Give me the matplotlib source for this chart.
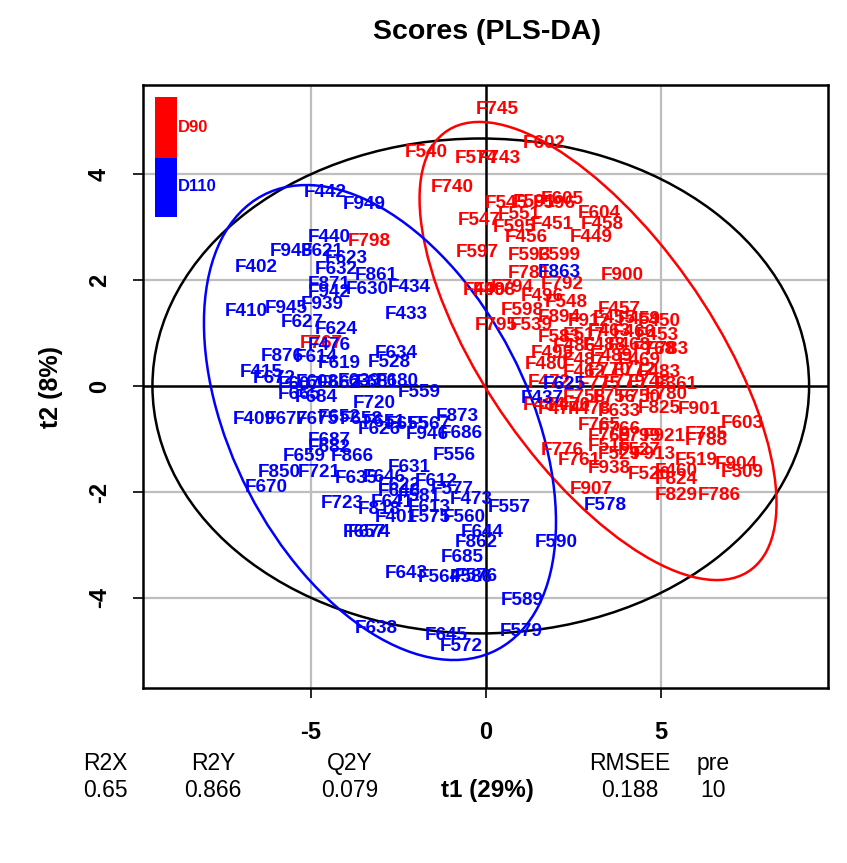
import matplotlib
matplotlib.use("Agg")
import matplotlib.pyplot as plt
from matplotlib.patches import Ellipse, Rectangle

plt.rcParams['font.family'] = ['Liberation Sans', 'DejaVu Sans']

# ---------------- data ----------------
d90_labels = ["F745", "F602", "F540", "F574", "F743", "F740", "F798", "F545", "F591", "F605",
              "F596", "F604", "F547", "F551", "F595", "F451", "F458", "F456", "F449", "F597",
              "F593", "F599", "F781", "F900", "F490", "F498", "F794", "F792", "F496", "F548",
              "F457", "F598", "F894", "F795", "F539", "F583", "F495", "F480", "F767", "F361",
              "F780", "F825", "F901", "F633", "F603", "F785", "F788", "F776", "F761", "F519",
              "F904", "F509", "F938", "F520", "F460", "F824", "F907", "F829", "F786",
              "F912", "F455", "F459", "F450", "F517", "F463", "F466", "F453", "F486", "F488",
              "F468", "F768", "F783", "F487", "F489", "F469", "F462", "F770", "F772", "F483",
              "F775", "F779", "F748", "F758", "F756", "F750", "F470", "F478", "F765", "F766",
              "F769", "F799", "F921", "F516", "F527", "F529", "F913", "F472", "F484", "F474"]
d90_t1 = [0.31, 1.66, -1.71, -0.29, 0.37, -0.97, -3.34, 0.57, 1.37, 2.17,
          1.94, 3.23, -0.20, 0.94, 0.80, 1.89, 3.31, 1.14, 3.00, -0.26,
          1.23, 2.09, 1.23, 3.89, -0.06, 0.23, 0.74, 2.17, 1.60, 2.29,
          3.80, 1.03, 2.09, 0.29, 1.29, 2.09, 1.89, 1.71, -4.71, 5.43,
          5.14, 4.94, 6.09, 3.80, 7.31, 6.29, 6.29, 2.17, 2.66, 6.00,
          7.14, 7.31, 3.51, 4.66, 5.43, 5.43, 3.00, 5.43, 6.66,
          2.94, 3.66, 4.37, 4.94, 2.80, 3.51, 4.23, 4.89, 2.51, 3.37,
          4.09, 4.80, 5.17, 2.80, 3.57, 4.37, 2.80, 3.51, 4.23, 4.94,
          3.23, 3.94, 4.66, 2.80, 3.66, 4.37, 2.37, 2.94, 3.23, 3.80,
          3.51, 4.37, 5.09, 3.51, 4.37, 3.80, 4.80, 1.80, 1.66, 2.09]
d90_t2 = [5.21, 4.58, 4.40, 4.30, 4.30, 3.75, 2.72, 3.45, 3.47, 3.51,
          3.45, 3.26, 3.13, 3.23, 3.00, 3.04, 3.04, 2.81, 2.81, 2.51,
          2.47, 2.47, 2.13, 2.09, 1.81, 1.81, 1.85, 1.91, 1.68, 1.58,
          1.45, 1.43, 1.30, 1.15, 1.15, 0.91, 0.62, 0.40, 0.81, 0.02,
          -0.17, -0.42, -0.45, -0.49, -0.70, -0.92, -1.02, -1.21, -1.40, -1.40,
          -1.49, -1.64, -1.55, -1.68, -1.62, -1.77, -1.96, -2.06, -2.06,
          1.21, 1.28, 1.25, 1.21, 0.96, 1.02, 1.00, 0.96, 0.74, 0.77,
          0.77, 0.68, 0.68, 0.49, 0.55, 0.49, 0.26, 0.30, 0.30, 0.26,
          0.02, 0.06, 0.06, -0.21, -0.21, -0.21, -0.36, -0.45, -0.74, -0.83,
          -0.96, -0.96, -0.96, -1.15, -1.21, -1.30, -1.30, 0.06, -0.36, -0.45]

d110_labels = ["F442", "F949", "F440", "F948", "F621", "F402", "F623", "F632", "F861", "F871",
               "F942", "F630", "F434", "F410", "F945", "F939", "F433", "F627", "F624", "F476",
               "F876", "F614", "F634", "F619", "F528", "F415", "F672", "F607", "F608", "F662",
               "F639", "F681", "F680", "F559", "F665", "F684", "F720", "F409", "F677", "F675",
               "F652", "F658", "F651", "F655", "F567", "F626", "F946", "F686", "F873", "F556",
               "F687", "F682", "F659", "F866", "F631", "F850", "F721", "F635", "F670", "F646",
               "F612", "F577", "F622", "F648", "F473", "F723", "F641", "F613", "F818", "F401",
               "F575", "F560", "F557", "F657", "F674", "F644", "F862", "F590", "F685", "F643",
               "F564", "F576", "F586", "F589", "F638", "F645", "F579", "F572", "F578", "F437",
               "F625", "F863", "F581"]
d110_t1 = [-4.60, -3.49, -4.49, -5.57, -4.69, -6.57, -4.00, -4.29, -3.14, -4.49,
           -4.49, -3.40, -2.20, -6.86, -5.71, -4.69, -2.29, -5.26, -4.29, -4.49,
           -5.83, -4.86, -2.57, -4.20, -2.77, -6.43, -6.06, -5.34, -4.83, -4.20,
           -3.63, -3.11, -2.54, -1.91, -5.34, -4.86, -3.20, -6.63, -5.71, -4.83,
           -4.20, -3.57, -2.91, -2.26, -1.63, -3.06, -1.69, -0.71, -0.83, -0.91,
           -4.49, -4.49, -5.20, -3.83, -2.20, -5.91, -4.77, -3.71, -6.29, -2.91,
           -1.43, -0.97, -2.49, -2.49, -0.43, -4.11, -2.69, -1.63, -3.06, -2.57,
           -1.63, -0.63, 0.66, -3.49, -3.34, -0.11, -0.29, 2.00, -0.69, -2.29,
           -1.34, -0.29, -0.43, 1.03, -3.14, -1.14, 1.00, -0.71, 3.40, 1.60,
           2.23, 2.09, -1.91]
d110_t2 = [3.66, 3.43, 2.81, 2.53, 2.53, 2.23, 2.40, 2.19, 2.08, 1.91,
           1.77, 1.83, 1.85, 1.40, 1.47, 1.53, 1.34, 1.19, 1.06, 0.77,
           0.55, 0.53, 0.62, 0.43, 0.45, 0.25, 0.15, 0.02, 0.06, 0.04,
           0.08, 0.06, 0.08, -0.13, -0.17, -0.21, -0.34, -0.64, -0.64, -0.64,
           -0.60, -0.64, -0.68, -0.72, -0.72, -0.83, -0.91, -0.89, -0.58, -1.32,
           -1.02, -1.17, -1.34, -1.34, -1.53, -1.64, -1.64, -1.74, -1.91, -1.72,
           -1.81, -1.96, -1.87, -2.00, -2.15, -2.21, -2.19, -2.30, -2.34, -2.49,
           -2.49, -2.49, -2.30, -2.77, -2.77, -2.77, -2.96, -2.96, -3.23, -3.53,
           -3.62, -3.60, -3.62, -4.04, -4.57, -4.70, -4.64, -4.92, -2.26, -0.23,
           0.02, 2.15, -2.09]

# ellipses: (center t1, center t2, semi-axis a, semi-axis b, angle deg)
hotelling = (-0.15, 0.0, 9.38, 4.67, 0.0)
ell_d90 = (3.20, 0.66, 6.12, 2.69, -38.0)
ell_d110 = (-3.03, -0.69, 5.70, 3.59, -37.3)

groups = ["D90", "D110"]
group_colors = ["#FF0000", "#0000FF"]

stat_names = ["R2X", "R2Y", "Q2Y", "RMSEE", "pre"]
stat_values = ["0.65", "0.866", "0.079", "0.188", "10"]

xticks = [-5, 0, 5]
yticks = [-4, -2, 0, 2, 4]

# ---------------- figure ----------------
W, H = 847, 863
fig = plt.figure(figsize=(W / 100, H / 100), dpi=100)
ax = fig.add_axes([143 / W, 1 - 688 / H, 685 / W, 603 / H])
ax.set_xlim(-9.80, 9.77)
ax.set_ylim(-5.70, 5.68)

# grid
for xv in xticks:
    if xv != 0:
        ax.axvline(xv, color="#bebebe", lw=1.6, zorder=1)
for yv in yticks:
    if yv != 0:
        ax.axhline(yv, color="#bebebe", lw=1.6, zorder=1)
ax.axvline(0, color="black", lw=1.8, zorder=2)
ax.axhline(0, color="black", lw=1.8, zorder=2)

# ellipses
for (cx, cy, a, b, ang), col in [(hotelling, "black"), (ell_d90, group_colors[0]),
                                 (ell_d110, group_colors[1])]:
    ax.add_patch(Ellipse((cx, cy), 2 * a, 2 * b, angle=ang, fill=False,
                         edgecolor=col, lw=1.8, zorder=3))

# labels
for lab, x, y in zip(d90_labels, d90_t1, d90_t2):
    ax.text(x, y, lab, color=group_colors[0], fontsize=13.6, fontweight="bold",
            ha="center", va="center", zorder=4)
for lab, x, y in zip(d110_labels, d110_t1, d110_t2):
    ax.text(x, y, lab, color=group_colors[1], fontsize=13.6, fontweight="bold",
            ha="center", va="center", zorder=5)

# ticks
ax.set_xticks(xticks)
ax.set_yticks(yticks)
ax.set_xticklabels([str(v) for v in xticks], fontsize=17, fontweight="bold")
ax.set_yticklabels([str(v) for v in yticks], fontsize=17, fontweight="bold",
                   rotation=90, va="center")
ax.tick_params(axis="x", direction="out", length=7, width=1.2, pad=17)
ax.tick_params(axis="y", direction="out", length=7, width=1.2, pad=16)
for s in ax.spines.values():
    s.set_linewidth(1.8)

ax.set_ylabel("t2 (8%)", fontsize=18, fontweight="bold", labelpad=18)

# color key legend
ax.add_patch(Rectangle((0.0175, 0.879), 0.032, 0.101, transform=ax.transAxes,
                       facecolor=group_colors[0], edgecolor="none", zorder=6))
ax.add_patch(Rectangle((0.0175, 0.781), 0.032, 0.098, transform=ax.transAxes,
                       facecolor=group_colors[1], edgecolor="none", zorder=6))
ax.text(0.051, 0.929, groups[0], transform=ax.transAxes, color=group_colors[0],
        fontsize=12, fontweight="bold", ha="left", va="center", zorder=6)
ax.text(0.051, 0.831, groups[1], transform=ax.transAxes, color=group_colors[1],
        fontsize=12, fontweight="bold", ha="left", va="center", zorder=6)

# title
fig.text(487 / W, 1 - 32 / H, "Scores (PLS-DA)", fontsize=20.5, fontweight="bold",
         ha="center", va="center")

# bottom statistics
stat_x = [105, 213, 350, 630, 713]
for xp, n, v in zip(stat_x, stat_names, stat_values):
    fig.text(xp / W, 1 - 763 / H, n, fontsize=16.5, ha="center", va="center")
    fig.text(xp / W, 1 - 790 / H, v, fontsize=16.5, ha="center", va="center")
fig.text(487 / W, 1 - 790 / H, "t1 (29%)", fontsize=17.5, fontweight="bold",
         ha="center", va="center")

fig.savefig("out.png", dpi=100)
